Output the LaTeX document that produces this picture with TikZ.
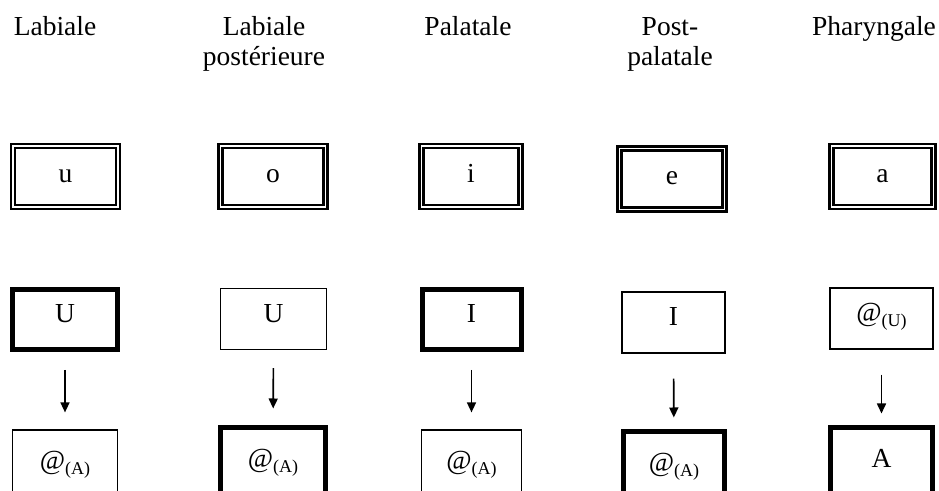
\documentclass[tikz,border=0pt]{standalone}
\usepackage{fontspec}
\setmainfont{Liberation Serif}
\usetikzlibrary{arrows.meta}
\def\mysize{\fontsize{13.75}{15}\selectfont}
\newcommand{\mysub}[1]{\raisebox{-0.35ex}{\fontsize{9}{9}\selectfont(#1)}}

\begin{document}
\begin{tikzpicture}[x=0.5pt,y=-0.5pt,font=\mysize,
  place/.style={anchor=base,align=center},
  vowel/.style={draw,double,line width=1.2pt,double distance=0.7pt,
    minimum width=52.5pt,minimum height=30.5pt,text height=6pt,text depth=0pt},
  light/.style={draw,line width=0.6pt,minimum width=51.5pt,minimum height=30.5pt},
  heavy/.style={draw,line width=2.5pt,minimum width=51pt,minimum height=30pt},
  upper/.style={text height=11pt,text depth=7.5pt},
  lower/.style={minimum height=40pt,text height=8pt,text depth=8pt},
  flow/.style={-{Triangle[length=5pt,width=4.5pt]},line width=0.8pt,
    shorten <=9pt,shorten >=8.5pt}]
% the frame of the page
\useasboundingbox (0,0) rectangle (939,491);
\clip (0,0) rectangle (939,491);
% the places of articulation (base = last line)
\node[place] (lab) at (55,36) {Labiale};
\node[place] (labpost) at (264,66) {Labiale\\postérieure};
\node[place] (pal) at (468,36) {Palatale};
\node[place] (postpal) at (670,66) {Post-\\palatale};
\node[place] (phar) at (874,36) {Pharyngale};
% the vowels
\node[vowel] (vu) at (65.5,176.5) {u};
\node[vowel] (vo) at (273,176.5) {o};
\node[vowel,minimum width=49.5pt] (vi) at (471,176.5) {i};
\node[vowel] (ve) at (672,179) {e};
\node[vowel,minimum width=51pt] (va) at (882.5,176.5) {a};
% the first elements
\node[heavy,upper,minimum width=52.5pt] (mu) at (65,319.5) {U};
\node[light,upper,minimum width=53pt] (mo) at (273.5,319) {U};
\node[heavy,upper,minimum width=49.5pt] (mi) at (471.5,319.5) {I};
\node[light,upper] (me) at (673.5,322.5) {I};
\node[light,upper] (ma) at (881.5,318.5) {@\mysub{U}};
% the second elements
\node[light,lower,minimum width=52.5pt] (bu) at (65,470) {@\mysub{A}};
\node[heavy,lower,minimum width=52.5pt] (bo) at (273,468) {@\mysub{A}};
\node[light,lower,minimum width=50pt] (bi) at (471.5,470) {@\mysub{A}};
\node[heavy,lower,minimum width=50.5pt] (be) at (674,472) {@\mysub{A}};
\node[heavy,lower] (ba) at (881.5,468) {A};
% the arrows
\draw[flow] (mu) -- (bu);
\draw[flow] (mo) -- (bo);
\draw[flow] (mi) -- (bi);
\draw[flow,shorten <=12.5pt,shorten >=6pt] (me) -- (be);
\draw[flow,shorten <=12.5pt,shorten >=6pt] (ma) -- (ba);
\end{tikzpicture}
\end{document}
